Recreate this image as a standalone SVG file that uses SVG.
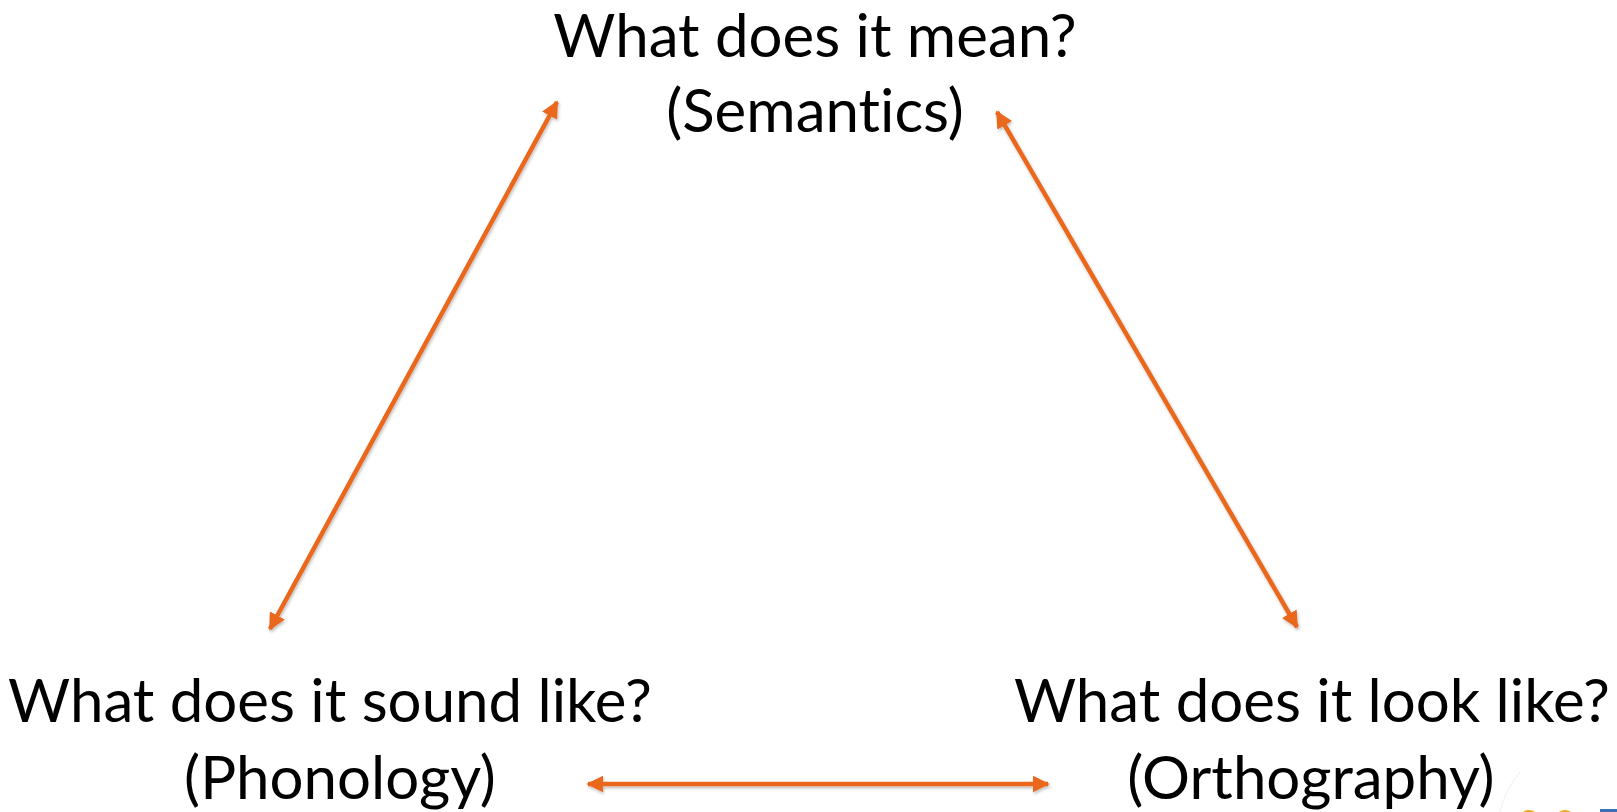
<svg xmlns="http://www.w3.org/2000/svg" width="1617" height="812" viewBox="0 0 1617 812">
<style>
.t{font-family:Lato,"Open Sans","Liberation Sans",sans-serif;font-size:60px;fill:#000;text-anchor:middle;font-variant-ligatures:none;font-feature-settings:"liga" 0}
.c{stroke:#E9671F;stroke-width:4.5;fill:none}
</style>
<defs>
<marker id="ah" viewBox="0 0 10 10" refX="9" refY="5" markerWidth="3.8" markerHeight="3.8" orient="auto-start-reverse" markerUnits="strokeWidth">
<path d="M0,0 L10,5 L0,10 Z" fill="#E9671F"/>
</marker>
<filter id="sh" x="-10%" y="-10%" width="120%" height="120%">
<feDropShadow dx="1" dy="2" stdDeviation="1.5" flood-color="#000" flood-opacity="0.25"/>
</filter>
</defs>
<rect width="1617" height="812" fill="#fff"/>
<g id="semantics">
<text class="t" x="815" y="57">What does it mean?</text>
<text class="t" x="815" y="132">(Semantics)</text>
</g>
<g id="phonology">
<text class="t" x="330" y="722">What does it sound like?</text>
<text class="t" x="340" y="799">(Phonology)</text>
</g>
<g id="orthography">
<text class="t" x="1312" y="722">What does it look like?</text>
<text class="t" x="1311" y="799">(Orthography)</text>
</g>
<g id="connectors" filter="url(#sh)">
<line class="c" x1="557" y1="102" x2="270" y2="629" marker-start="url(#ah)" marker-end="url(#ah)"/>
<line class="c" x1="997" y1="112" x2="1297" y2="627" marker-start="url(#ah)" marker-end="url(#ah)"/>
<line class="c" x1="588" y1="784" x2="1048" y2="784" marker-start="url(#ah)" marker-end="url(#ah)"/>
</g>
<g id="logo-fragment">
<path d="M1500,812 Q1505,790 1520,772" stroke="#f0f0f0" stroke-width="1" fill="none"/>
<ellipse cx="1529" cy="816" rx="8" ry="6" fill="#F5A623"/>
<ellipse cx="1565" cy="816" rx="8" ry="6" fill="#F5A623"/>
<rect x="1600" y="809" width="17" height="3" fill="#3B6FB6"/>
</g>
</svg>
